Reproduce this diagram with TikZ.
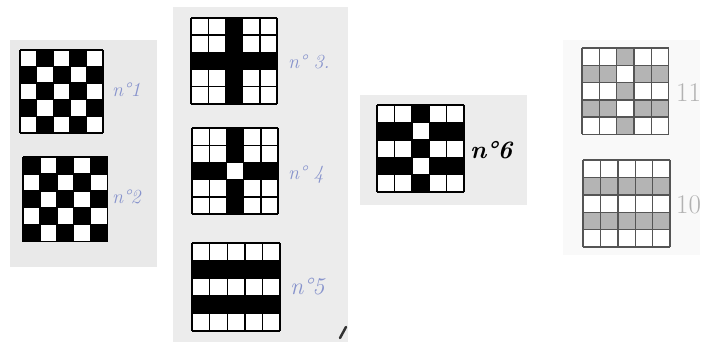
\documentclass[tikz,border=0pt]{standalone}
\definecolor{paperA}{HTML}{E9E9E9}
\definecolor{paperB}{HTML}{ECECEC}
\definecolor{paperC}{HTML}{F9F9F9}
\definecolor{inkblue}{HTML}{8793CC}
\definecolor{pencil}{HTML}{B4B4B4}
\definecolor{pencilline}{HTML}{555555}
\newcommand\mygrid[6]{% x0 y0 s cells fillcolor linecolor
  \fill[white] (#1,#2) rectangle ++({5*#3},{5*#3});
  \foreach \c/\r in {#4} {\fill[#5] ({#1+\c*#3},{#2+\r*#3}) rectangle ++(#3,#3);}
  \foreach \i in {0,...,5} {
    \draw[#6,line width=1.4pt] ({#1+\i*#3},#2) -- ({#1+\i*#3},{#2+5*#3});
    \draw[#6,line width=1.4pt] (#1,{#2+\i*#3}) -- ({#1+5*#3},{#2+\i*#3});
  }
}
\tikzset{
  lbl/.style={text=inkblue,font=\itshape\fontsize{20}{20}\selectfont,inner sep=0pt,anchor=west},
  lblblack/.style={text=black,font=\itshape\bfseries\fontsize{25}{25}\selectfont,inner sep=0pt,anchor=west},
  lblgray/.style={text=gray!60,font=\fontsize{27}{27}\selectfont,inner sep=0pt,anchor=west}
}
\begin{document}
\begin{tikzpicture}[x=1pt,y=-1pt]
\useasboundingbox (0,0) rectangle (709,342);
\fill[white] (0,0) rectangle (709,342);
% papers
\fill[paperA] (10,40) rectangle (157,267);
\fill[paperB] (173,7) rectangle (348,342);
\fill[paperB] (360,95) rectangle (527,205);
\fill[paperC] (563,40) rectangle (700,255);
% grids
\mygrid{20}{50}{16.6}{1/0,3/0,0/1,2/1,4/1,1/2,3/2,0/3,2/3,4/3,1/4,3/4}{black}{black}
\mygrid{23}{157}{16.9}{0/0,2/0,4/0,1/1,3/1,0/2,2/2,4/2,1/3,3/3,0/4,2/4,4/4}{black}{black}
\mygrid{191}{18}{17.2}{2/0,2/1,2/3,2/4,0/2,1/2,2/2,3/2,4/2}{black}{black}
\mygrid{192}{128}{17.2}{2/0,2/1,2/3,2/4,0/2,1/2,3/2,4/2}{black}{black}
\mygrid{192}{243}{17.6}{0/1,1/1,2/1,3/1,4/1,0/3,1/3,2/3,3/3,4/3}{black}{black}
\mygrid{377}{105}{17.4}{2/0,2/2,2/4,0/1,1/1,3/1,4/1,0/3,1/3,3/3,4/3}{black}{black}
\mygrid{582}{48}{17.3}{2/0,2/2,2/4,0/1,1/1,3/1,4/1,0/3,1/3,3/3,4/3}{pencil}{pencilline}
\mygrid{583}{160}{17.4}{0/1,1/1,2/1,3/1,4/1,0/3,1/3,2/3,3/3,4/3}{pencil}{pencilline}
% labels
\node[lbl] (l1) at (112,90) {n°1};
\node[lbl] (l2) at (112,197) {n°2};
\node[lbl] (l3) at (288,62) {n° 3.};
\node[lbl] (l4) at (288,175) {n° 4};
\node[lbl,font=\itshape\fontsize{24}{24}\selectfont] (l5) at (290,287) {n°5};
\node[lblblack] (l6) at (470,150) {n°6};
\node[lblgray] (l11) at (676,93) {11};
\node[lblgray] (l10) at (676,205) {10};
% mark
\draw[black!80,line width=2.5pt,line cap=round] (340,338) -- (346,327);
\end{tikzpicture}
\end{document}
